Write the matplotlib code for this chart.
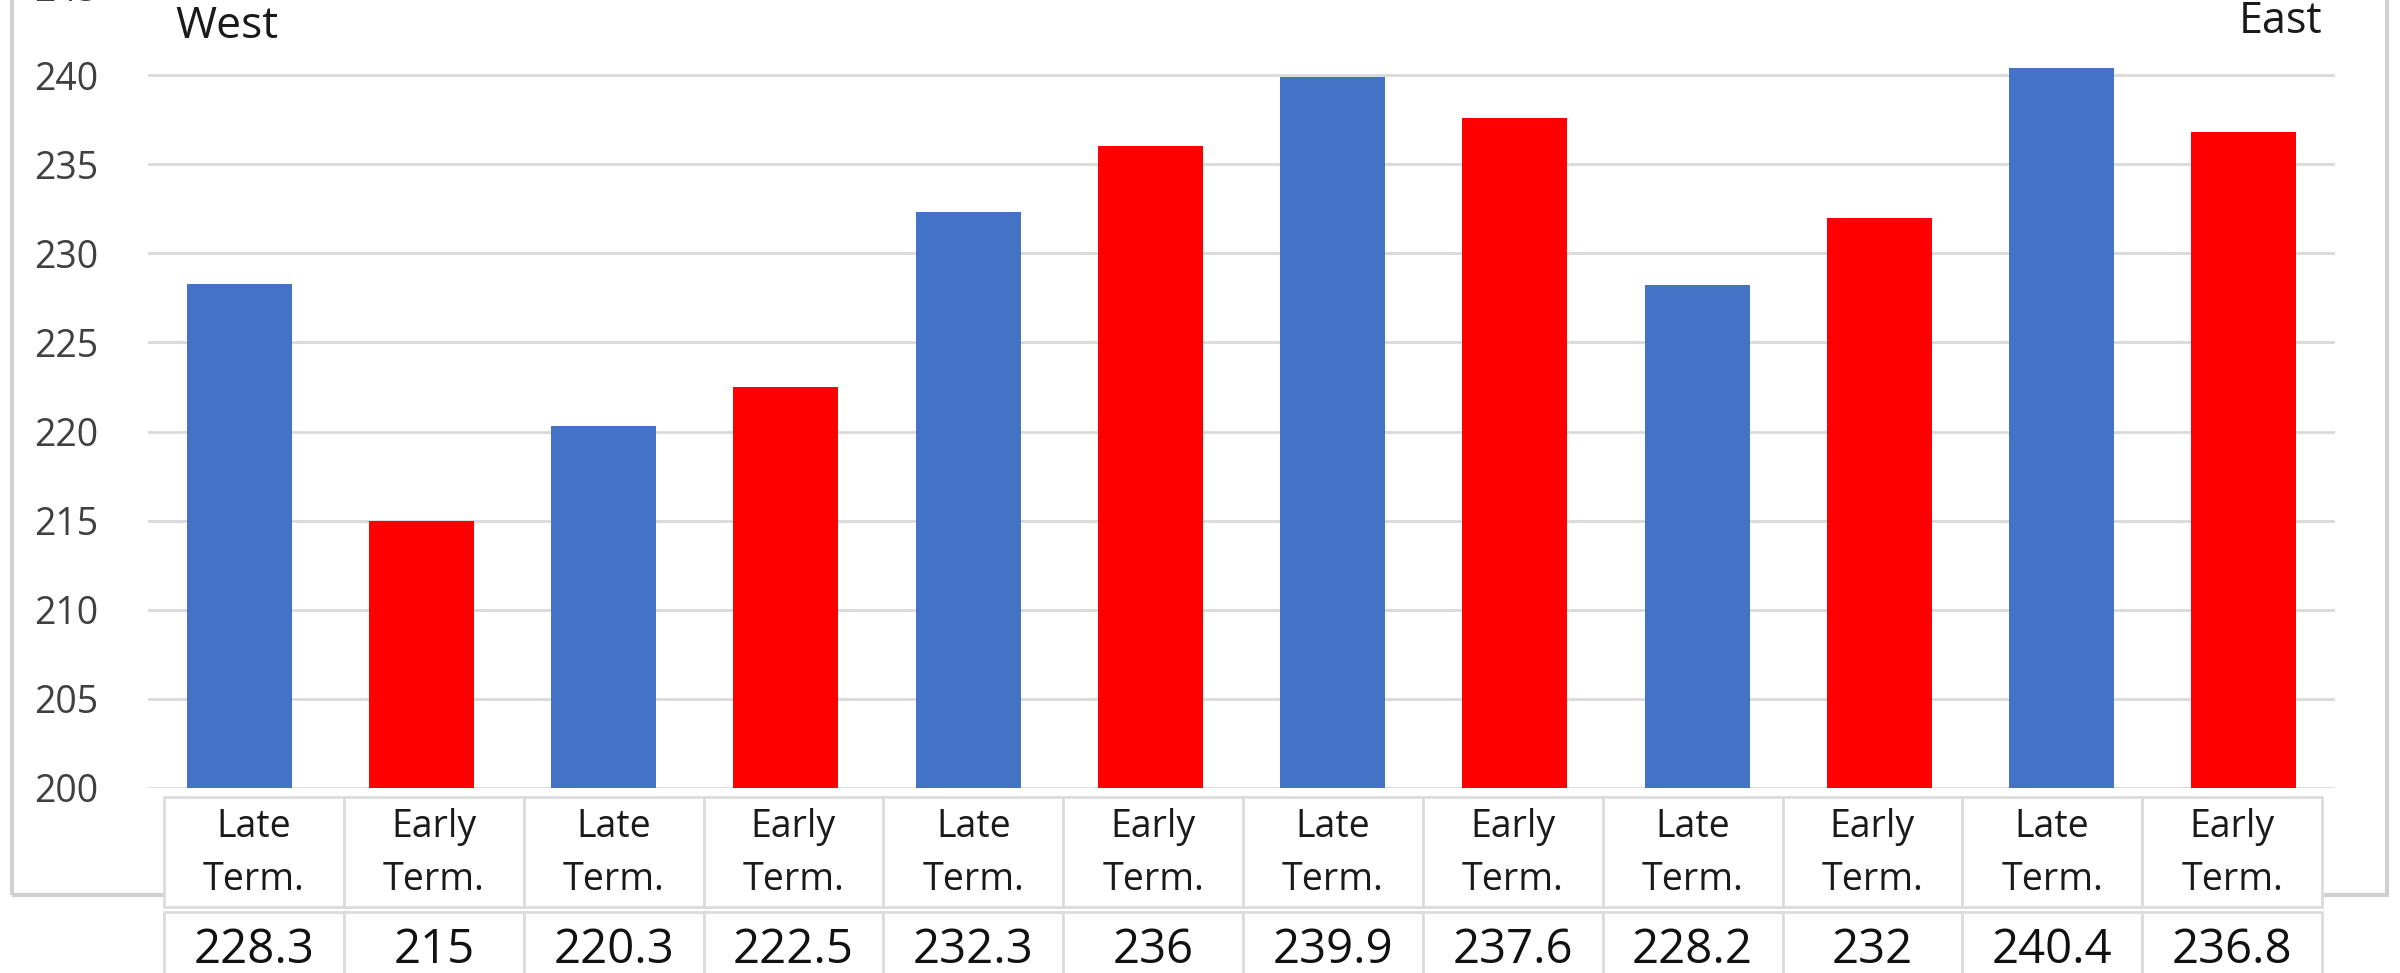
import matplotlib
matplotlib.use("Agg")
import matplotlib.pyplot as plt
from matplotlib.patches import Rectangle

# ---- data ----
categories = ["Late Term.", "Early Term.", "Late Term.", "Early Term.", "Late Term.", "Early Term.",
              "Late Term.", "Early Term.", "Late Term.", "Early Term.", "Late Term.", "Early Term."]
values = [228.3, 215, 220.3, 222.5, 232.3, 236, 239.9, 237.6, 228.2, 232, 240.4, 236.8]
value_labels = ["228.3", "215", "220.3", "222.5", "232.3", "236", "239.9", "237.6", "228.2", "232", "240.4", "236.8"]
yticks = [200, 205, 210, 215, 220, 225, 230, 235, 240, 245]
region_left = "West"
region_right = "East"

BLUE = "#4472C4"
RED = "#FF0000"
colors = [BLUE if c.startswith("Late") else RED for c in categories]

plt.rcParams['font.family'] = ['Open Sans', 'DejaVu Sans']

W, H = 2400, 973
fig = plt.figure(figsize=(W / 100, H / 100), dpi=100)
fig.patch.set_facecolor("white")

def fx(px):
    return px / W

def fy(py):
    return 1 - py / H

# outer chart frame
frame = Rectangle((fx(12), fy(895)), fx(2387) - fx(12), 1.2, transform=fig.transFigure,
                  fill=False, edgecolor="#d0d0d0", lw=3, zorder=0)
fig.patches.append(frame)

# main axes
ax = fig.add_axes([fx(148), fy(788), fx(2335) - fx(148), (788 + 14) / H])
ax.set_facecolor("none")
x = list(range(len(values)))
ax.bar(x, values, width=0.575, color=colors, zorder=3)
ax.set_xlim(-0.5, len(values) - 0.5)
ax.set_ylim(200, 245)
ax.set_yticks(yticks)
ax.set_xticks([])
for s in ax.spines.values():
    s.set_visible(False)
ax.yaxis.grid(True, color="#d9d9d9", lw=2)
ax.set_axisbelow(True)
ax.tick_params(axis="y", length=0, labelsize=27, labelcolor="#404040", pad=36)

# region labels
fig.text(fx(175), fy(38), region_left, fontsize=32, color="#1a1a1a", ha="left", va="baseline")
fig.text(fx(2322), fy(33), region_right, fontsize=31, color="#1a1a1a", ha="right", va="baseline")

# data table below the chart
t_left, t_right = 164, 2322
n = len(categories)
cw = (t_right - t_left) / n
rows = [(797, 907), (912, 1000)]
for i, (cat, lab) in enumerate(zip(categories, value_labels)):
    x0 = t_left + i * cw
    for (ya, yb) in rows:
        r = Rectangle((fx(x0), fy(yb)), fx(cw), (yb - ya) / H, transform=fig.transFigure,
                      facecolor="white", edgecolor="#dcdcdc", lw=2, zorder=2)
        fig.patches.append(r)
    xc = fx(x0 + cw / 2)
    l1, l2 = cat.split(" ")
    fig.text(xc, fy(837), l1, fontsize=27, color="#1a1a1a", ha="center", va="baseline", zorder=5)
    fig.text(xc, fy(890), l2, fontsize=27, color="#1a1a1a", ha="center", va="baseline", zorder=5)
    fig.text(xc, fy(963), lab, fontsize=34, color="#111111", ha="center", va="baseline", zorder=5)

fig.savefig("out.png", dpi=100, facecolor="white")
